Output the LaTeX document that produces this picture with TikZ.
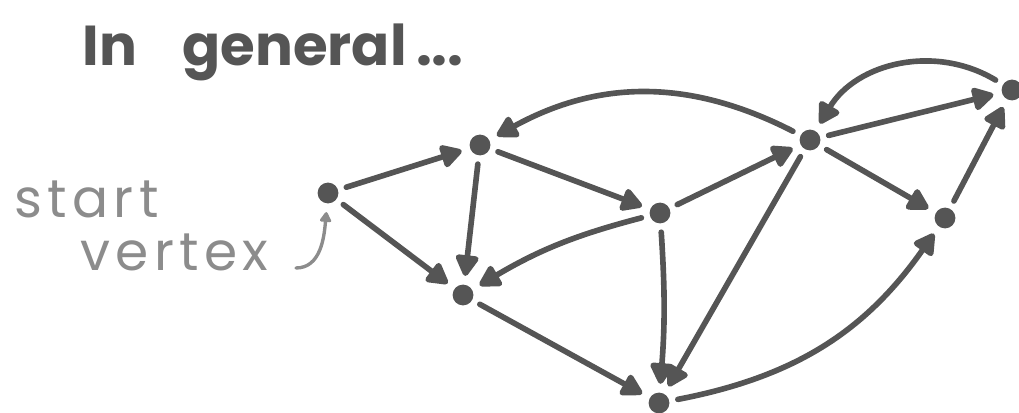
\documentclass[tikz,border=0pt]{standalone}
\usepackage{fontspec}
\setmainfont{Poppins}
\usetikzlibrary{arrows.meta,positioning}
\definecolor{ink}{HTML}{555555}
\definecolor{pencil}{HTML}{8C8C8C}

\begin{document}
\begin{tikzpicture}[
  x=0.025cm, y=-0.025cm,
  vertex/.style={circle, fill=ink, inner sep=0pt, minimum size=0.52cm, outer sep=0.22cm},
  arrow/.style={-{Triangle[round, length=17pt, width=18pt]}, line width=4pt, draw=ink, line cap=round},
  pointer/.style={-{Triangle[round, length=8pt, width=9pt]}, line width=2.4pt, draw=pencil, line cap=round}
]
\useasboundingbox (0,0) rectangle (1019,413);

% vertices
\node[vertex] (s) at (328,193) {};
\node[vertex] (a) at (480,145) {};
\node[vertex] (b) at (463,295) {};
\node[vertex] (c) at (660,213) {};
\node[vertex] (d) at (659,403) {};
\node[vertex] (e) at (810,140) {};
\node[vertex] (f) at (1012,90) {};
\node[vertex] (g) at (945,218) {};

% labels
\node[anchor=base west, text=ink, font=\bfseries\fontsize{40}{44}\selectfont] (title) at (78,66) {In\hspace{0.8em}general\,...};
\node[anchor=base west, text=pencil, align=left, inner sep=0pt,
      font=\fontsize{38}{37}\selectfont\addfontfeature{LetterSpace=10}] (startlbl) at (14,270) {start\\\hspace*{1.65cm}vertex};
\coordinate (hook) at (296,268);

% edges
\draw[arrow] (s) -- (a);
\draw[arrow] (s) -- (b);
\draw[arrow] (a) -- (b);
\draw[arrow] (a) -- (c);
\draw[arrow] (c) to[bend right=8] (b);
\draw[arrow] (b) -- (d);
\draw[arrow] (c) to[bend left=4] (d);
\draw[arrow] (c) -- (e);
\draw[arrow] (e) to[bend right=28] (a);
\draw[arrow] (e) -- (d);
\draw[arrow] (e) -- (f);
\draw[arrow] (f) to[bend right=45] (e);
\draw[arrow] (e) -- (g);
\draw[arrow] (g) -- (f);
\draw[arrow] (d) to[bend right=22] (g);
\draw[pointer] (hook) to[out=0,in=-95] (s);
\end{tikzpicture}
\end{document}
